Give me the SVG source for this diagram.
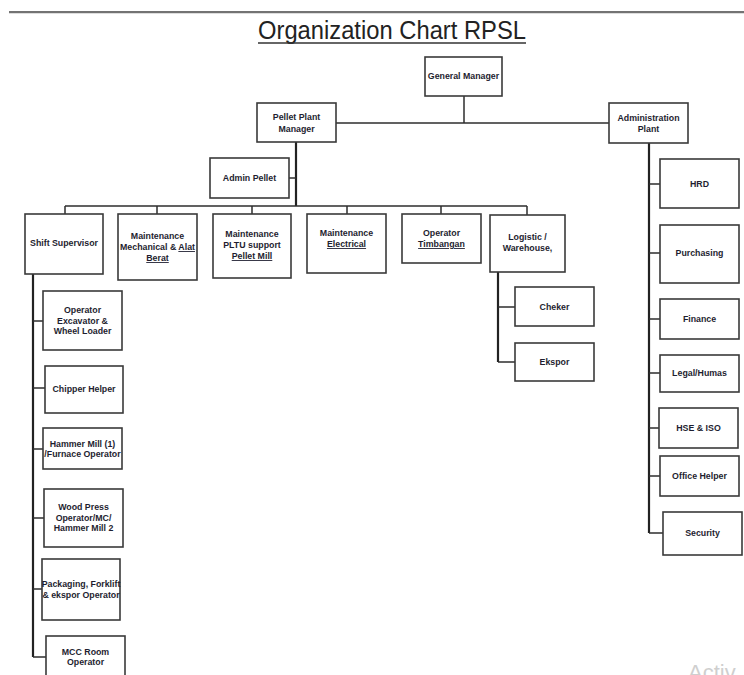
<svg xmlns="http://www.w3.org/2000/svg" width="744" height="675" viewBox="0 0 744 675">
<style>
.box{fill:#fff;stroke:#3a3a3a;stroke-width:1.6}
.t{font-family:"Liberation Sans",Arial,sans-serif;font-size:8.8px;font-weight:bold;fill:#1e1e30;text-anchor:middle}
.u{text-decoration:underline}
.ln{fill:none;stroke:#2e2e2e;stroke-width:1.5}
.thick{fill:none;stroke:#222;stroke-width:2.2}
</style>
<rect x="0" y="0" width="744" height="675" fill="#fff"/>
<line x1="9" y1="12" x2="744" y2="12" stroke="#444" stroke-width="1.3"/>
<line x1="9" y1="13.5" x2="744" y2="13.5" stroke="#ddd" stroke-width="1"/>
<text x="392" y="39" font-family="Liberation Sans,Arial,sans-serif" font-size="26" fill="#222" text-anchor="middle" textLength="268" lengthAdjust="spacingAndGlyphs">Organization Chart RPSL</text>
<line x1="258" y1="43" x2="526" y2="43" stroke="#333" stroke-width="1.5"/>

<g id="connectors">
<path class="ln" d="M464 96 V123 M336 123 H610"/>
<path class="thick" d="M296 142 V206"/>
<path class="ln" d="M289 178 H296"/>
<path class="ln" d="M65 206 H527 M65 206 V214 M157 206 V214 M252 206 V214 M347 206 V214 M441 206 V214 M527 206 V215"/>
<path class="thick" d="M33 274 V657"/>
<path class="ln" d="M33 321 H43 M33 388 H45 M33 449 H43 M33 518 H44 M33 589 H42 M33 657 H46"/>
<path class="thick" d="M498 272 V362"/>
<path class="ln" d="M498 307 H515 M498 362 H515"/>
<path class="thick" d="M649 143 V533"/>
<path class="ln" d="M649 184 H660 M649 253 H660 M649 319 H660 M649 373 H660 M649 428 H659 M649 476 H660 M649 533 H663"/>
</g>

<g id="general-manager"><rect class="box" x="425" y="57" width="77" height="39"/><text class="t" x="463.5" y="79">General Manager</text></g>
<g id="pellet-plant-manager"><rect class="box" x="257" y="103" width="79" height="39"/><text class="t" x="296.5" y="120">Pellet Plant</text><text class="t" x="296.5" y="132">Manager</text></g>
<g id="administration-plant"><rect class="box" x="609" y="103" width="79" height="40"/><text class="t" x="648.5" y="121">Administration</text><text class="t" x="648.5" y="132">Plant</text></g>
<g id="admin-pellet"><rect class="box" x="210" y="158" width="79" height="40"/><text class="t" x="249.5" y="181">Admin Pellet</text></g>

<g id="shift-supervisor"><rect class="box" x="25" y="214" width="78" height="60"/><text class="t" x="64" y="246">Shift Supervisor</text></g>
<g id="maint-mechanical"><rect class="box" x="118" y="214" width="79" height="66"/><text class="t" x="157.5" y="239">Maintenance</text><text class="t" x="157.5" y="250">Mechanical &amp; <tspan class="u">Alat</tspan></text><text class="t u" x="157.5" y="261">Berat</text></g>
<g id="maint-pltu"><rect class="box" x="213" y="214" width="78" height="64"/><text class="t" x="252" y="237">Maintenance</text><text class="t" x="252" y="248">PLTU support</text><text class="t u" x="252" y="259">Pellet Mill</text></g>
<g id="maint-electrical"><rect class="box" x="307" y="214" width="79" height="59"/><text class="t" x="346.5" y="236">Maintenance</text><text class="t u" x="346.5" y="247">Electrical</text></g>
<g id="operator-timbangan"><rect class="box" x="402" y="214" width="79" height="49"/><text class="t" x="441.5" y="236">Operator</text><text class="t u" x="441.5" y="247">Timbangan</text></g>
<g id="logistic"><rect class="box" x="490" y="215" width="75" height="57"/><text class="t" x="527.5" y="240">Logistic /</text><text class="t" x="527.5" y="251">Warehouse,</text></g>

<g id="cheker"><rect class="box" x="515" y="287" width="79" height="39"/><text class="t" x="554.5" y="310">Cheker</text></g>
<g id="ekspor"><rect class="box" x="515" y="343" width="79" height="38"/><text class="t" x="554.5" y="365">Ekspor</text></g>

<g id="hrd"><rect class="box" x="660" y="159" width="79" height="49"/><text class="t" x="699.5" y="187">HRD</text></g>
<g id="purchasing"><rect class="box" x="660" y="225" width="79" height="58"/><text class="t" x="699.5" y="256">Purchasing</text></g>
<g id="finance"><rect class="box" x="660" y="299" width="79" height="40"/><text class="t" x="699.5" y="322">Finance</text></g>
<g id="legal-humas"><rect class="box" x="660" y="355" width="79" height="37"/><text class="t" x="699.5" y="376">Legal/Humas</text></g>
<g id="hse-iso"><rect class="box" x="659" y="408" width="79" height="40"/><text class="t" x="698.5" y="431">HSE &amp; ISO</text></g>
<g id="office-helper"><rect class="box" x="660" y="456" width="79" height="40"/><text class="t" x="699.5" y="479">Office Helper</text></g>
<g id="security"><rect class="box" x="663" y="512" width="79" height="43"/><text class="t" x="702.5" y="536">Security</text></g>

<g id="operator-excavator"><rect class="box" x="43" y="291" width="79" height="59"/><text class="t" x="82.5" y="313">Operator</text><text class="t" x="82.5" y="324">Excavator &amp;</text><text class="t" x="82.5" y="334">Wheel Loader</text></g>
<g id="chipper-helper"><rect class="box" x="45" y="366" width="78" height="47"/><text class="t" x="84" y="392">Chipper Helper</text></g>
<g id="hammer-mill"><rect class="box" x="43" y="428" width="79" height="41"/><text class="t" x="82.5" y="447">Hammer Mill (1)</text><text class="t" x="82.5" y="457">/Furnace Operator</text></g>
<g id="wood-press"><rect class="box" x="44" y="489" width="79" height="58"/><text class="t" x="83.5" y="510">Wood Press</text><text class="t" x="83.5" y="521">Operator/MC/</text><text class="t" x="83.5" y="531">Hammer Mill 2</text></g>
<g id="packaging"><rect class="box" x="42" y="559" width="78" height="61"/><text class="t" x="81" y="587">Packaging, Forklift</text><text class="t" x="81" y="598">&amp; ekspor Operator</text></g>
<g id="mcc-room"><rect class="box" x="46" y="636" width="79" height="50"/><text class="t" x="85.5" y="655">MCC Room</text><text class="t" x="85.5" y="665">Operator</text></g>

<text x="688" y="680" font-family="Liberation Sans,Arial,sans-serif" font-size="22" fill="#cfcfcf">Activ</text>
</svg>
